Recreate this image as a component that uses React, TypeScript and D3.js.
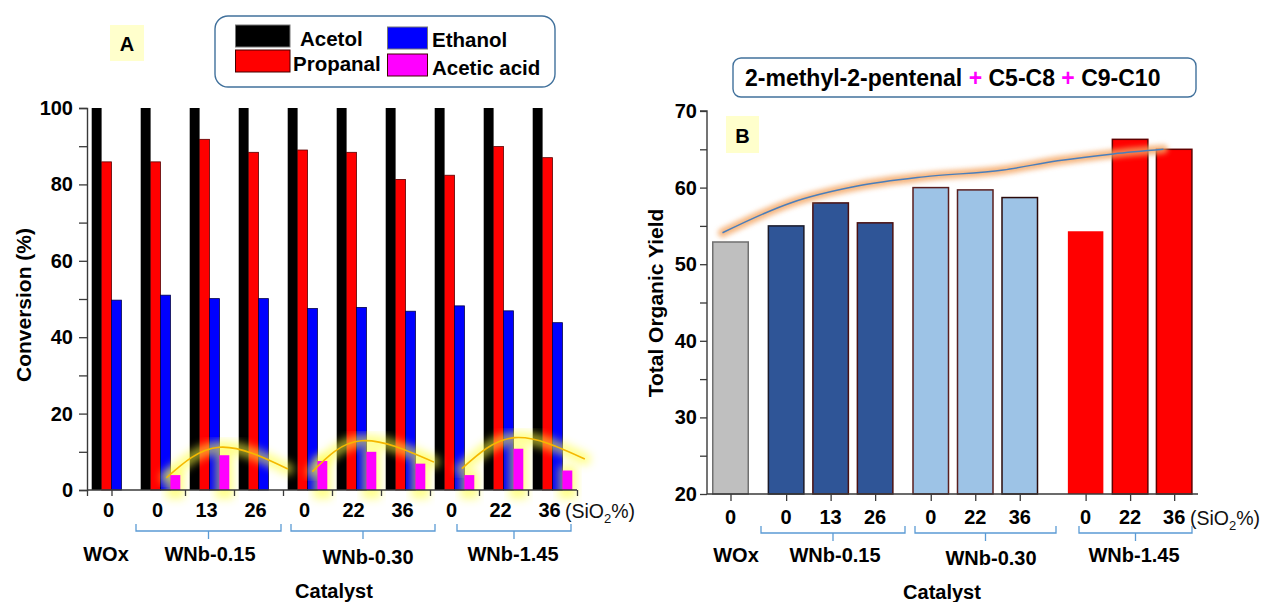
import React, { useEffect, useRef } from 'react';
import * as d3 from 'd3';

// ---- data ----
const siO2Labels = ['0', '0', '13', '26', '0', '22', '36', '0', '22', '36'];
const catalystGroups = ['WOx', 'WNb-0.15', 'WNb-0.30', 'WNb-1.45'];

// panel A: conversion (%)
const seriesNames = ['Acetol', 'Propanal', 'Ethanol', 'Acetic acid'];
const acetol = [100, 100, 100, 100, 100, 100, 100, 100, 100, 100];
const propanal = [85.9, 85.9, 91.8, 88.4, 89.0, 88.4, 81.3, 82.4, 89.9, 87.0];
const ethanol = [49.7, 51.0, 50.1, 50.1, 47.5, 47.8, 46.8, 48.2, 46.9, 43.8];
const aceticAcid = [0, 3.9, 9.1, 0, 7.6, 10.0, 6.9, 3.9, 10.8, 5.1];
// hand drawn trend arcs over acetic acid: [catalyst slot, conversion %]
const aceticTrend = [
  [[1.62, 3.2], [2.7, 11.2], [4.1, 5.5]],
  [[4.6, 4.8], [5.6, 12.9], [7.08, 7.3]],
  [[7.65, 5.6], [8.73, 13.7], [10.16, 8.1]],
];

// panel B: total organic yield
const organicYield = [52.9, 55.0, 58.0, 55.4, 60.0, 59.7, 58.7, 54.3, 66.3, 65.0];
const yieldSlots = [0, 1.25, 2.25, 3.25, 4.5, 5.5, 6.5, 7.98, 8.98, 9.97];
const yieldTrend = [
  [-0.18, 54.1], [1.35, 58.0], [2.85, 60.2], [4.34, 61.4],
  [6.13, 62.3], [7.35, 63.5], [8.6, 64.4], [9.73, 65.0],
];

const FONT = '"Liberation Sans", Arial, Helvetica, sans-serif';
const AXIS = '#3a3a3a';

const App = () => {
  const ref = useRef<SVGSVGElement>(null);

  useEffect(() => {
    const svg = d3.select(ref.current);
    svg.selectAll('*').remove();

    const defs = svg.append('defs');
    const blur = (id: string, sd: number) =>
      defs.append('filter').attr('id', id)
        .attr('x', '-30%').attr('y', '-30%').attr('width', '160%').attr('height', '160%')
        .append('feGaussianBlur').attr('stdDeviation', sd);
    blur('glowY', 4);
    blur('glowO', 2.5);

    const text = (g: any, x: number, y: number, s: string, size = 20, anchor = 'middle', weight = 'bold') =>
      g.append('text').attr('x', x).attr('y', y).attr('text-anchor', anchor)
        .attr('font-size', size).attr('font-weight', weight).attr('fill', '#000').text(s);

    const siO2Unit = (g: any, x: number, y: number) => {
      const t = g.append('text').attr('x', x).attr('y', y).attr('font-size', 19.5).attr('fill', '#111');
      t.append('tspan').text('(SiO');
      t.append('tspan').attr('dy', 5).attr('font-size', 13).text('2');
      t.append('tspan').attr('dy', -5).text('%)');
    };

    const bracket = (g: any, x0: number, x1: number, y: number) => {
      const xm = (x0 + x1) / 2;
      g.append('path')
        .attr('d', `M${x0},${y - 7}V${y}H${x1}V${y - 7}M${xm},${y}V${y + 8}`)
        .attr('fill', 'none').attr('stroke', '#5b9bd5').attr('stroke-width', 1.3);
    };

    const styleAxis = (g: any) => {
      g.select('.domain').attr('stroke', AXIS).attr('stroke-width', 1.4);
      g.selectAll('.tick line').attr('stroke', AXIS).attr('stroke-width', 1.3);
      g.selectAll('.tick text').attr('font-size', 20).attr('font-weight', 'bold')
        .attr('font-family', FONT).attr('fill', '#000');
    };

    // ================= Panel A =================
    const gA = svg.append('g');
    const xA = d3.scaleLinear().domain([0, 10]).range([87, 577]);
    const yA = d3.scaleLinear().domain([0, 100]).range([490, 108]);
    const series = [acetol, propanal, ethanol, aceticAcid];
    const fills = ['#000000', '#ff0000', '#0000ff', '#ff00ff'];
    const edges = ['none', '#5a0000', '#00004a', 'none'];

    const bandFor = (i: number) =>
      d3.scaleBand<string>().domain(seriesNames).range([xA(i) + 4.7, xA(i + 1) - 4.7]);

    const drawBars = (sIdx: number) => {
      series[sIdx].forEach((v, i) => {
        if (v <= 0) return;
        const b = bandFor(i);
        gA.append('rect')
          .attr('x', b(seriesNames[sIdx]))
          .attr('y', yA(v))
          .attr('width', b.bandwidth())
          .attr('height', yA(0) - yA(v))
          .attr('fill', fills[sIdx])
          .attr('stroke', edges[sIdx])
          .attr('stroke-width', 0.8);
      });
    };
    [0, 1, 2].forEach(drawBars);

    // yellow glow around acetic acid bars and arcs
    aceticAcid.forEach((v, i) => {
      if (v <= 0) return;
      const b = bandFor(i);
      gA.append('rect')
        .attr('x', (b('Acetic acid') as number) - 4)
        .attr('y', yA(v) - 5)
        .attr('width', b.bandwidth() + 8)
        .attr('height', yA(0) - yA(v) + 14)
        .attr('fill', '#ffff33').attr('opacity', 0.55)
        .attr('filter', 'url(#glowY)');
    });
    const arc = d3.line<number[]>()
      .x(d => xA(d[0])).y(d => yA(d[1]))
      .curve(d3.curveNatural);
    aceticTrend.forEach(pts => {
      gA.append('path').attr('d', arc(pts)).attr('fill', 'none')
        .attr('stroke', '#ffff40').attr('stroke-width', 12).attr('opacity', 0.6)
        .attr('stroke-linecap', 'round').attr('filter', 'url(#glowY)');
    });
    drawBars(3);
    aceticTrend.forEach(pts => {
      gA.append('path').attr('d', arc(pts)).attr('fill', 'none')
        .attr('stroke', '#f5b800').attr('stroke-width', 1.6);
    });

    // axes A
    const yAxisA = gA.append('g').attr('transform', `translate(${xA(0)},0)`)
      .call(d3.axisLeft(yA).tickValues(d3.range(0, 101, 10)).tickSize(8).tickPadding(6)
        .tickFormat((d: any) => (d % 20 === 0 ? String(d) : '')));
    styleAxis(yAxisA);
    const xAxisA = gA.append('g').attr('transform', `translate(0,${yA(0)})`)
      .call(d3.axisBottom(xA).tickValues([0, 0.5, 2, 3, 4, 5, 6, 7, 8, 9, 10]).tickSize(6)
        .tickFormat(() => ''));
    styleAxis(xAxisA);
    xAxisA.select('.domain').attr('d', `M${xA(0)},0H${xA(10)}`);

    siO2Labels.forEach((s, i) => text(gA, xA(i + 0.5) - 3, 517, s));
    siO2Unit(gA, 565, 518);

    const bracketA = [[136, 281], [291, 435], [457, 571]];
    bracketA.forEach(([a, b]) => bracket(gA, a, b, 531));
    const groupXA = [106, 210, 368, 513];
    catalystGroups.forEach((s, i) => text(gA, groupXA[i], i === 2 ? 564 : 561, s));
    text(gA, 334, 598, 'Catalyst');
    text(gA, 0, 0, 'Conversion (%)', 21).attr('transform', 'translate(31,305) rotate(-90)');

    // label A and legend
    gA.append('rect').attr('x', 110).attr('y', 25).attr('width', 34).attr('height', 36).attr('fill', '#ffffcc');
    text(gA, 127, 51, 'A');
    gA.append('rect').attr('x', 215).attr('y', 16).attr('width', 340).attr('height', 71).attr('rx', 13)
      .attr('fill', '#fff').attr('stroke', '#41719c').attr('stroke-width', 1.4);
    const legendPos = [
      { sx: 235.5, sy: 25, sw: 54.5, tx: 300, ty: 46 },
      { sx: 235.5, sy: 50, sw: 54.5, tx: 293, ty: 71 },
      { sx: 387.5, sy: 27, sw: 40, tx: 432, ty: 47 },
      { sx: 387.5, sy: 54, sw: 40, tx: 432, ty: 75 },
    ];
    seriesNames.forEach((s, i) => {
      const p = legendPos[i];
      gA.append('rect').attr('x', p.sx).attr('y', p.sy).attr('width', p.sw).attr('height', 22)
        .attr('fill', fills[i]).attr('stroke', i % 2 === 0 ? '#777' : '#400').attr('stroke-width', 1);
      text(gA, p.tx, p.ty, s, 20.5, 'start');
    });

    // ================= Panel B =================
    const gB = svg.append('g');
    const xB = d3.scaleLinear().domain([0, 10]).range([730.5, 1175.5]);
    const yB = d3.scaleLinear().domain([20, 70]).range([494, 111]);
    const barW = 35.5;
    const yieldFill = ['#bfbfbf', '#2f5597', '#2f5597', '#2f5597', '#9dc3e6', '#9dc3e6', '#9dc3e6', '#ff0000', '#ff0000', '#ff0000'];
    const yieldEdge = ['#707070', '#1a1a2a', '#4a1010', '#4a1010', '#5a1e1e', '#5a1e1e', '#2a0a0a', 'none', '#600000', '#600000'];

    organicYield.forEach((v, i) => {
      gB.append('rect')
        .attr('x', xB(yieldSlots[i]) - barW / 2)
        .attr('y', yB(v))
        .attr('width', barW)
        .attr('height', yB(20) - yB(v))
        .attr('fill', yieldFill[i])
        .attr('stroke', yieldEdge[i])
        .attr('stroke-width', 1.5);
    });

    const trend = d3.line<number[]>()
      .x(d => xB(d[0])).y(d => yB(d[1]))
      .curve(d3.curveMonotoneX);
    gB.append('path').attr('d', trend(yieldTrend)).attr('fill', 'none')
      .attr('stroke', '#f4a460').attr('stroke-width', 9).attr('opacity', 0.8)
      .attr('stroke-linecap', 'round').attr('filter', 'url(#glowO)');
    gB.append('path').attr('d', trend(yieldTrend)).attr('fill', 'none')
      .attr('stroke', '#4a7ebb').attr('stroke-width', 1.5);

    const yAxisB = gB.append('g').attr('transform', 'translate(707,0)')
      .call(d3.axisLeft(yB).tickValues(d3.range(20, 71, 5)).tickSize(7).tickPadding(3)
        .tickFormat((d: any) => (d % 10 === 0 ? String(d) : '')));
    styleAxis(yAxisB);
    yAxisB.select('.domain').attr('d', `M0,${yB(20)}V${yB(70)}H-7`);
    const xAxisB = gB.append('g').attr('transform', `translate(0,${yB(20)})`)
      .call(d3.axisBottom(xB).tickValues(yieldSlots).tickSize(7).tickFormat(() => ''));
    styleAxis(xAxisB);
    xAxisB.select('.domain').attr('d', 'M707,0H1198');

    siO2Labels.forEach((s, i) => text(gB, xB(yieldSlots[i]), 524, s));
    siO2Unit(gB, 1190, 525);
    const bracketB = [[761, 905], [915, 1056], [1079, 1192]];
    bracketB.forEach(([a, b]) => bracket(gB, a, b, 533));
    const groupXB = [736, 835, 991, 1134];
    catalystGroups.forEach((s, i) => text(gB, groupXB[i], i === 2 ? 565 : 562, s));
    text(gB, 942, 599, 'Catalyst');
    text(gB, 0, 0, 'Total Organic Yield', 21).attr('transform', 'translate(663,303) rotate(-90)');

    gB.append('rect').attr('x', 726).attr('y', 116).attr('width', 33).attr('height', 37).attr('fill', '#ffffcc');
    text(gB, 742.5, 143, 'B');

    gB.append('rect').attr('x', 733).attr('y', 58).attr('width', 463).attr('height', 39).attr('rx', 8)
      .attr('fill', '#fff').attr('stroke', '#41719c').attr('stroke-width', 1.4);
    const title = gB.append('text').attr('x', 745).attr('y', 86).attr('font-size', 23).attr('font-weight', 'bold');
    title.append('tspan').text('2-methyl-2-pentenal ');
    title.append('tspan').attr('fill', '#ff00ff').text('+');
    title.append('tspan').text(' C5-C8 ');
    title.append('tspan').attr('fill', '#ff00ff').text('+');
    title.append('tspan').text(' C9-C10');
  }, []);

  return (
    <svg ref={ref} width={1263} height={602}
      style={{ position: 'absolute', left: 0, top: 0, fontFamily: FONT, background: '#fff' }} />
  );
};

export default App;
